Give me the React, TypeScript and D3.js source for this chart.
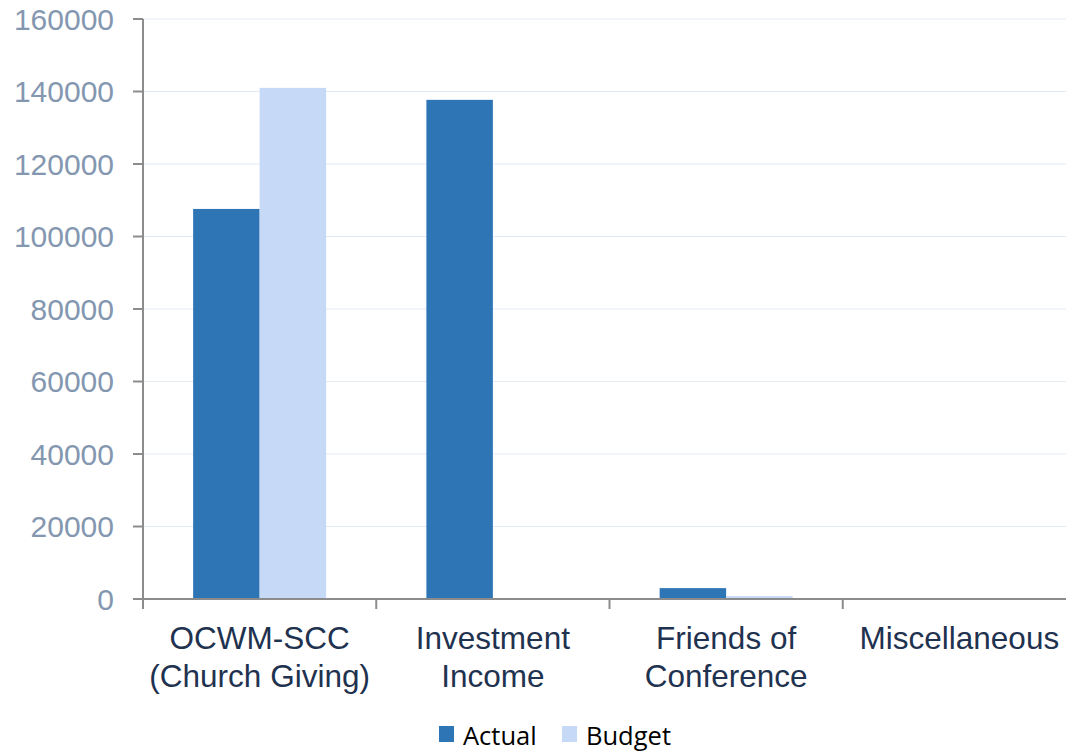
import React from 'react';
import * as d3 from 'd3';

const categories = ['OCWM-SCC\n(Church Giving)', 'Investment\nIncome', 'Friends of\nConference', 'Miscellaneous'];
const series = ['Actual', 'Budget'];
const actual = [107600, 137700, 3000, 150];
const budget = [141000, 0, 800, 0];
const yTicks = [0, 20000, 40000, 60000, 80000, 100000, 120000, 140000, 160000];

const colors = ['#2E75B6', '#C6DAF7'];

export default function App() {
  const width = 1066;
  const height = 751;
  const left = 143;
  const right = 1076;
  const top = 19;
  const bottom = 599;

  const x = d3.scaleBand<string>().domain(categories).range([left, right]);
  const xs = d3
    .scaleBand<string>()
    .domain(series)
    .range([0, x.bandwidth()])
    .paddingInner(0)
    .paddingOuter(0.754);
  const y = d3.scaleLinear().domain([0, 160000]).range([bottom, top]);

  const values = [actual, budget];

  return (
    <svg
      width={width}
      height={height}
      style={{ position: 'absolute', left: 0, top: 0, background: '#fff' }}
    >
      {/* gridlines */}
      {yTicks.map((t) => (
        <line key={'g' + t} x1={left} x2={right} y1={y(t)} y2={y(t)} stroke="#E4EAF2" strokeWidth={1.2} />
      ))}

      {/* bars */}
      {categories.map((c, i) =>
        series.map((s, j) => {
          const v = values[j][i];
          const h = bottom - y(v);
          return (
            <rect
              key={c + s}
              x={(x(c) as number) + (xs(s) as number)}
              y={y(v)}
              width={xs.bandwidth()}
              height={h}
              fill={colors[j]}
            />
          );
        })
      )}

      {/* y axis */}
      <line x1={left} x2={left} y1={top} y2={bottom + 10} stroke="#8C8C8C" strokeWidth={2} />
      {yTicks.map((t) => (
        <g key={'t' + t}>
          <line x1={left - 10} x2={left} y1={y(t)} y2={y(t)} stroke="#8C8C8C" strokeWidth={2} />
          <text
            x={114}
            y={y(t)}
            dy="0.36em"
            textAnchor="end"
            fontFamily="Liberation Sans, Arial, sans-serif"
            fontSize={30}
            fill="#8497B0"
          >
            {t}
          </text>
        </g>
      ))}

      {/* x axis */}
      <line x1={left} x2={right} y1={bottom} y2={bottom} stroke="#8C8C8C" strokeWidth={2} />
      {categories.map((c) => (
        <line
          key={'xt' + c}
          x1={x(c) as number}
          x2={x(c) as number}
          y1={bottom}
          y2={bottom + 10}
          stroke="#8C8C8C"
          strokeWidth={2}
        />
      ))}
      {categories.map((c) => {
        const cx = (x(c) as number) + x.bandwidth() / 2;
        return (
          <text
            key={'xl' + c}
            textAnchor="middle"
            fontFamily="Liberation Sans, Arial, sans-serif"
            fontSize={31.5}
            fill="#1F324F"
          >
            {c.split('\n').map((line, k) => (
              <tspan key={k} x={cx} y={649 + k * 37.5}>
                {line}
              </tspan>
            ))}
          </text>
        );
      })}

      {/* legend */}
      {series.map((s, j) => {
        const lx = [439, 562][j];
        return (
          <g key={'lg' + s}>
            <rect x={lx} y={726} width={15} height={16} fill={colors[j]} />
            <text
              x={lx + 24}
              y={745}
              fontFamily="Open Sans, Liberation Sans, sans-serif"
              fontSize={25.5}
              fill="#000"
            >
              {s}
            </text>
          </g>
        );
      })}
    </svg>
  );
}
